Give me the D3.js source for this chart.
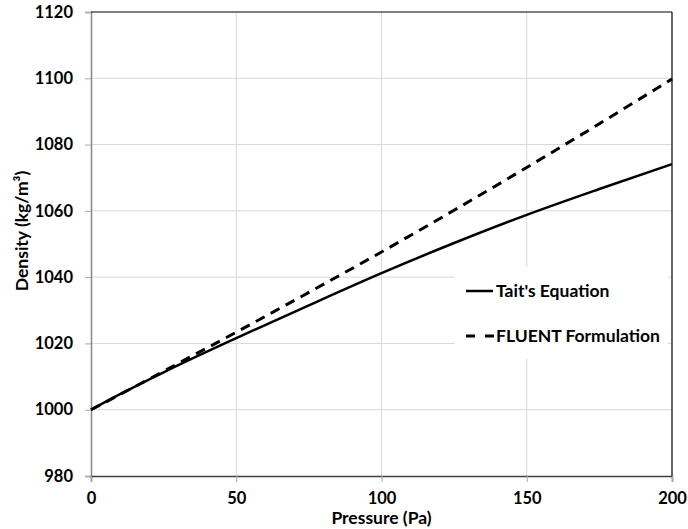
<!DOCTYPE html>
<html><head><meta charset="utf-8">
<script src="https://cdn.jsdelivr.net/npm/d3@7/dist/d3.min.js"></script>
<style>body{margin:0;background:#fff}svg{display:block}</style>
</head><body><svg id="c" width="688" height="529"></svg>
<script>
const pressure = [0, 10, 25, 50, 75, 100, 125, 150, 175, 200];
const tait = [1000, 1004.7, 1011.3, 1021.6, 1031.5, 1041.2, 1050.3, 1058.8, 1066.6, 1074.1];
const fluent = [1000, 1004.6, 1011.6, 1023.4, 1035.4, 1047.6, 1060.2, 1073.1, 1086.3, 1099.8];
const xTicks = [0, 50, 100, 150, 200];
const yTicks = [980, 1000, 1020, 1040, 1060, 1080, 1100, 1120];
const seriesNames = ["Tait's Equation", "FLUENT Formulation"];

const svg = d3.select("#c");
const L = 91, R = 672, T = 12, B = 476;
const x = d3.scaleLinear().domain([0, 200]).range([L, R]);
const y = d3.scaleLinear().domain([980, 1120]).range([B, T]);
const font = "Lato, 'Open Sans', sans-serif";

// grid
svg.append("g").selectAll("line").data(xTicks.slice(1, -1)).join("line")
  .attr("x1", d => x(d)).attr("x2", d => x(d)).attr("y1", T).attr("y2", B)
  .attr("stroke", "#d9d9d9").attr("stroke-width", 1);
svg.append("g").selectAll("line").data(yTicks.slice(1, -1)).join("line")
  .attr("x1", L).attr("x2", R).attr("y1", d => y(d)).attr("y2", d => y(d))
  .attr("stroke", "#d9d9d9").attr("stroke-width", 1);

// axes
const ya = svg.append("g").attr("transform", `translate(${L},0)`)
  .call(d3.axisLeft(y).tickValues(yTicks).tickSize(6).tickPadding(12).tickFormat(d3.format("d")));
ya.select(".domain").attr("stroke", "#868686").attr("stroke-width", 1.5);
ya.selectAll(".tick line").attr("stroke", "#a6a6a6");
ya.selectAll("text").attr("font-family", font).attr("font-weight", "bold").attr("font-size", 16.5).attr("fill", "#000");

const xa = svg.append("g").attr("transform", `translate(0,${B})`)
  .call(d3.axisBottom(x).tickValues(xTicks).tickSize(6).tickPadding(10).tickFormat(d3.format("d")));
xa.select(".domain").attr("stroke", "#404040").attr("stroke-width", 1.5);
xa.selectAll(".tick line").attr("stroke", "#a6a6a6");
xa.selectAll("text").attr("font-family", font).attr("font-weight", "bold").attr("font-size", 16.5).attr("fill", "#000");

// top and right border
svg.append("line").attr("x1", L).attr("x2", R).attr("y1", T).attr("y2", T).attr("stroke", "#000").attr("stroke-width", 1.2);
svg.append("line").attr("x1", R).attr("x2", R).attr("y1", T).attr("y2", B).attr("stroke", "#000").attr("stroke-width", 1.2);

// lines
const line = d3.line().x(d => x(d[0])).y(d => y(d[1])).curve(d3.curveMonotoneX);
svg.append("path").datum(pressure.map((p, i) => [p, tait[i]]))
  .attr("d", line).attr("fill", "none").attr("stroke", "#000").attr("stroke-width", 2.5);
svg.append("path").datum(pressure.map((p, i) => [p, fluent[i]]))
  .attr("d", line).attr("fill", "none").attr("stroke", "#000").attr("stroke-width", 3)
  .attr("stroke-dasharray", "10,7");

// legend
const lg = svg.append("g");
lg.append("rect").attr("x", 455).attr("y", 267).attr("width", 213).attr("height", 92).attr("fill", "#fff");
const ly = [291, 336];
lg.append("line").attr("x1", 466).attr("x2", 493).attr("y1", ly[0]).attr("y2", ly[0]).attr("stroke", "#000").attr("stroke-width", 2.5);
lg.append("line").attr("x1", 466).attr("x2", 496).attr("y1", ly[1]).attr("y2", ly[1]).attr("stroke", "#000").attr("stroke-width", 3).attr("stroke-dasharray", "9,10");
lg.selectAll("text").data(seriesNames).join("text")
  .attr("x", 496).attr("y", (d, i) => ly[i]).attr("dy", "0.35em")
  .attr("font-family", font).attr("font-weight", "bold").attr("font-size", 17.5)
  .text(d => d);

// titles
svg.append("text").attr("x", (L + R) / 2).attr("y", 524).attr("text-anchor", "middle")
  .attr("font-family", font).attr("font-weight", "bold").attr("font-size", 17.5).text("Pressure (Pa)");
svg.append("text").attr("transform", "translate(28,231) rotate(-90)").attr("text-anchor", "middle")
  .attr("font-family", font).attr("font-weight", "bold").attr("font-size", 17.5).text("Density (kg/m³)");
</script></body></html>
